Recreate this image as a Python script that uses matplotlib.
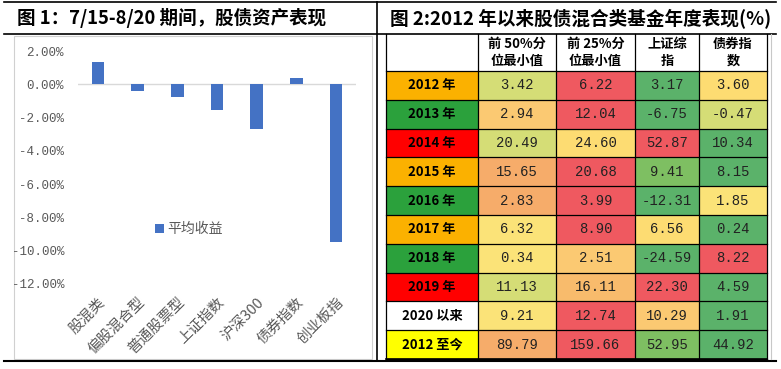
import matplotlib
matplotlib.use("Agg")
import matplotlib.pyplot as plt
from matplotlib.patches import Rectangle
from matplotlib.lines import Line2D

plt.rcParams['font.family'] = ['Noto Sans CJK SC', 'DejaVu Sans']

# ---------------- data ----------------
categories = ['股混类', '偏股混合型', '普通股票型', '上证指数', '沪深300', '债券指数', '创业板指']
avg_returns = [1.31, -0.42, -0.78, -1.55, -2.69, 0.36, -9.47]  # percent
y_ticks = [2, 0, -2, -4, -6, -8, -10, -12]

row_labels = ['2012 年', '2013 年', '2014 年', '2015 年', '2016 年', '2017 年',
              '2018 年', '2019 年', '2020 以来', '2012 至今']
col_headers = ['前 50%分\n位最小值', '前 25%分\n位最小值', '上证综\n指', '债券指\n数']
top50_min = [3.42, 2.94, 20.49, 15.65, 2.83, 6.32, 0.34, 11.13, 9.21, 89.79]
top25_min = [6.22, 12.04, 24.60, 20.68, 3.99, 8.90, 2.51, 16.11, 12.74, 159.66]
sh_index = [3.17, -6.75, 52.87, 9.41, -12.31, 6.56, -24.59, 22.30, 10.29, 52.95]
bond_index = [3.60, -0.47, 10.34, 8.15, 1.85, 0.24, 8.22, 4.59, 1.91, 44.92]

# ---------------- styles ----------------
OR, GR, RD, WH, YL = '#FBB100', '#2BA13C', '#FF0000', '#FFFFFF', '#FFFF00'
row_label_colors = [OR, GR, RD, OR, GR, OR, GR, RD, WH, YL]
G, LG, YG, Y, Y2, LO, O, R = ('#5BB26A', '#7EBF62', '#D5DD76', '#FBE378',
                              '#FDDC72', '#FBC972', '#F6AC6A', '#EF5960')
cell_colors = [
    [YG, R, G, Y2],
    [LO, R, G, YG],
    [YG, Y2, R, G],
    [O, R, LG, G],
    [O, R, G, Y],
    [Y, R, Y2, G],
    [Y, LO, G, R],
    [YG, '#F8BB6C', R, G],
    [Y, R, LO, G],
    [O, R, LG, G],
]

W, H = 781, 369
fig = plt.figure(figsize=(W / 100, H / 100), dpi=100)

# overlay axes in pixel coordinates
ov = fig.add_axes([0, 0, 1, 1])
ov.set_xlim(0, W)
ov.set_ylim(H, 0)
ov.axis('off')
ov.patch.set_alpha(0)

# frame lines
ov.add_line(Line2D([4, 776], [2, 2], color='black', lw=1.2))
ov.add_line(Line2D([4, 776], [34, 34], color='black', lw=1.2))
ov.add_line(Line2D([4, 776], [361, 361], color='black', lw=1.5))
ov.add_line(Line2D([377, 377], [2, 361], color='black', lw=1.2))
# light chart border
ov.add_patch(Rectangle((14, 36), 358, 323, fill=False, ec='#D0D0D0', lw=0.8))
ov.add_line(Line2D([771, 771], [34, 359], color='#C8C8C8', lw=0.8))

# titles
ov.text(17, 18, '图 1：7/15-8/20 期间，股债资产表现', fontsize=13.3, fontweight='bold',
        ha='left', va='center')
ov.text(390, 18, '图 2:2012 年以来股债混合类基金年度表现(%)', fontsize=13.4,
        fontweight='bold', ha='left', va='center')

# ---------------- bar chart ----------------
ax_left, ax_right, ax_top, ax_bot = 78, 356, 51, 284
ax = fig.add_axes([ax_left / W, 1 - ax_bot / H, (ax_right - ax_left) / W, (ax_bot - ax_top) / H])
ax.patch.set_alpha(0)
xs = list(range(len(categories)))
ax.bar(xs, [v / 100 for v in avg_returns], width=0.32, color='#4472C4', label='平均收益', zorder=3)
ax.axhline(0, color='#D9D9D9', lw=1, zorder=1)
ax.set_xlim(-0.5, len(categories) - 0.5)
ax.set_ylim(-0.12, 0.02)
for s in ax.spines.values():
    s.set_visible(False)
ax.set_yticks([t / 100 for t in y_ticks])
ax.set_yticklabels([f'{t:.2f}%' for t in y_ticks], family=['Liberation Mono'],
                   fontsize=9, color='#595959')
ax.tick_params(axis='y', length=0, pad=10)
ax.set_xticks(xs)
ax.set_xticklabels(categories, rotation=45, ha='right', va='top', rotation_mode='anchor',
                   fontsize=10.5, color='#595959')
ax.tick_params(axis='x', length=0, pad=8)
ax.legend(loc='center', bbox_to_anchor=(0.40, 0.236), frameon=False, fontsize=10,
          labelcolor='#595959', handlelength=0.6, handleheight=0.6, handletextpad=0.3)

# ---------------- table ----------------
col_x = [386, 478, 556, 635, 699, 767]
hdr_top, hdr_bot, tbl_bot = 34, 71, 359
row_h = (tbl_bot - hdr_bot) / len(row_labels)
columns = [top50_min, top25_min, sh_index, bond_index]

# header
for j, txt in enumerate(col_headers):
    x0, x1 = col_x[j + 1], col_x[j + 2]
    ov.text((x0 + x1) / 2, (hdr_top + hdr_bot) / 2, txt, ha='center', va='center',
            fontsize=9.5, fontweight='bold', linespacing=1.25)

for i, lab in enumerate(row_labels):
    y0 = hdr_bot + i * row_h
    ov.add_patch(Rectangle((col_x[0], y0), col_x[1] - col_x[0], row_h,
                           fc=row_label_colors[i], ec='none'))
    ov.text((col_x[0] + col_x[1]) / 2, y0 + row_h / 2, lab, ha='center', va='center',
            fontsize=9.5, fontweight='bold')
    for j, col in enumerate(columns):
        x0, x1 = col_x[j + 1], col_x[j + 2]
        ov.add_patch(Rectangle((x0, y0), x1 - x0, row_h, fc=cell_colors[i][j], ec='none'))
        ov.text((x0 + x1) / 2, y0 + row_h / 2, f'{col[i]:.2f}', ha='center', va='center',
                fontsize=10, family=['Liberation Mono'], color='#222222')

# grid lines
for x in col_x:
    ov.add_line(Line2D([x, x], [hdr_top, tbl_bot], color='black', lw=0.9))
for k in range(len(row_labels) + 1):
    y = hdr_bot + k * row_h
    ov.add_line(Line2D([col_x[0], col_x[-1]], [y, y], color='black', lw=0.9))
ov.add_line(Line2D([col_x[0], col_x[-1]], [tbl_bot, tbl_bot], color='black', lw=1.2))

fig.savefig('out.png', dpi=100)
